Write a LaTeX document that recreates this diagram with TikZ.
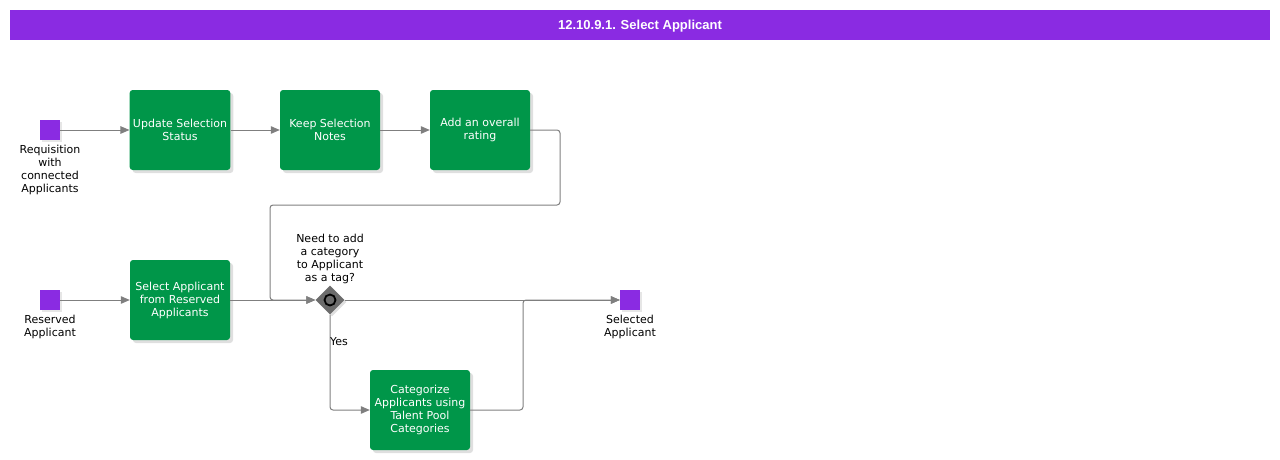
\documentclass[tikz,border=0pt]{standalone}
\usepackage{fontspec}
\setmainfont{DejaVu Sans}
\newfontfamily\titlefont{Liberation Sans}
\usetikzlibrary{shadows,arrows.meta,shapes.geometric}

\definecolor{bpmpurple}{HTML}{8A2BE2}
\definecolor{bpmgreen}{HTML}{009649}
\definecolor{flowgray}{HTML}{7F7F7F}

\tikzset{
  task/.style={rectangle,rounded corners=3pt,fill=bpmgreen,text=white,
    minimum width=100pt,minimum height=80pt,align=center,
    font=\fontsize{11}{13}\selectfont,
    drop shadow={opacity=0.25,shadow xshift=3pt,shadow yshift=-3pt}},
  event/.style={rectangle,fill=bpmpurple,minimum size=20pt,inner sep=0pt,
    drop shadow={opacity=0.2,shadow xshift=2pt,shadow yshift=-2pt}},
  gateway/.style={diamond,fill=flowgray!85!black,minimum size=29pt,inner sep=0pt,
    drop shadow={opacity=0.25,shadow xshift=2pt,shadow yshift=-2pt}},
  caption/.style={align=center,inner sep=0pt,font=\fontsize{11}{13}\selectfont},
  flow/.style={draw=flowgray,line width=1pt,rounded corners=3pt,
    -{Triangle[length=9pt,width=7.5pt]}}
}

\begin{document}
\begin{tikzpicture}[x=1pt,y=-1pt]
  \useasboundingbox (0,0) rectangle (1280,460);

  \fill[bpmpurple] (10,10) rectangle (1270,40);
  \node[text=white,font=\titlefont\bfseries\fontsize{13}{14}\selectfont] (title) at (640,26.5) {12.10.9.1. Select Applicant};

  % upper lane
  \node[event] (req) at (50,130) {};
  \node[caption,anchor=north] (reqlbl) at (50,145) {Requisition\\with\\connected\\Applicants};
  \node[task] (status) at (180,130) {Update Selection\\Status};
  \node[task] (notes) at (330,130) {Keep Selection\\Notes};
  \node[task] (rating) at (480,130) {Add an overall\\rating};

  % lower lane
  \node[event] (reserved) at (50,300) {};
  \node[caption,anchor=north] (reservedlbl) at (50,315) {Reserved\\Applicant};
  \node[task] (pick) at (180,300) {Select Applicant\\from Reserved\\Applicants};
  \node[gateway] (tagq) at (330,300) {};
  \draw[black,line width=1.8pt] (tagq.center) circle (5.5pt);
  \node[caption,anchor=south] (tagqlbl) at (330,284) {Need to add\\a category\\to Applicant\\as a tag?};
  \node[task] (categorize) at (420,410) {Categorize\\Applicants using\\Talent Pool\\Categories};
  \node[event] (selected) at (630,300) {};
  \node[caption,anchor=north] (selectedlbl) at (630,315) {Selected\\Applicant};

  \draw[flow] (req) -- (status);
  \draw[flow] (status) -- (notes);
  \draw[flow] (notes) -- (rating);
  \draw[flow] (rating.east) -- (560,130) -- (560,205) -- (270,205) -- (270,300) -- (tagq.west);
  \draw[flow] (reserved) -- (pick);
  \draw[flow] (pick) -- (tagq);
  \draw[flow] (tagq) -- (selected);
  \draw[flow] (tagq.south) -- (330,410) -- (categorize.west);
  \node[caption,anchor=west] (yes) at (330,342) {Yes};
  \draw[flow] (categorize.east) -- (523,410) -- (523,300) -- (selected.west);
\end{tikzpicture}
\end{document}
